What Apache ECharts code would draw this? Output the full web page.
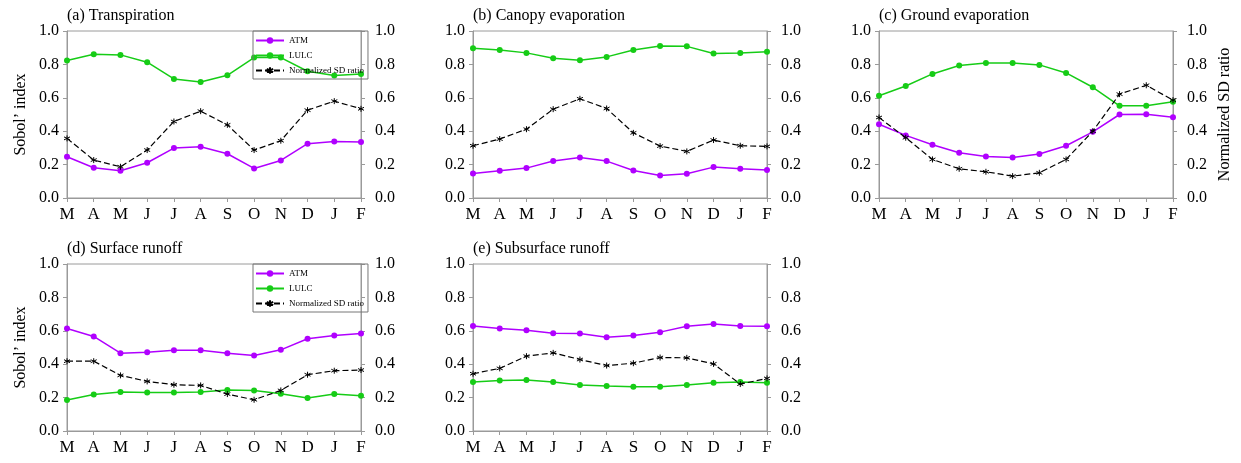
<!DOCTYPE html>
<html>
<head>
<meta charset="utf-8">
<script src="https://cdn.jsdelivr.net/npm/echarts@6/dist/echarts.min.js"></script>
<style>
html,body{margin:0;padding:0;background:#fff;}
#chart{width:1241px;height:463px;}
</style>
</head>
<body>
<div id="chart"></div>
<script>
const months = ['M','A','M','J','J','A','S','O','N','D','J','F'];
const yTicks = ['0.0','0.2','0.4','0.6','0.8','1.0'];
const panelTitles = ['(a) Transpiration','(b) Canopy evaporation','(c) Ground evaporation','(d) Surface runoff','(e) Subsurface runoff'];
const seriesNames = ['ATM','LULC','Normalized SD ratio'];

// (a) Transpiration
const atmA  = [0.247,0.181,0.163,0.211,0.299,0.307,0.265,0.177,0.225,0.325,0.339,0.335];
const lulcA = [0.823,0.861,0.857,0.813,0.713,0.695,0.735,0.841,0.841,0.759,0.733,0.743];
const sdA   = [0.357,0.227,0.187,0.287,0.458,0.520,0.438,0.287,0.343,0.526,0.580,0.534];
// (b) Canopy evaporation
const atmB  = [0.147,0.163,0.179,0.221,0.243,0.221,0.165,0.135,0.145,0.185,0.175,0.167];
const lulcB = [0.896,0.886,0.869,0.837,0.825,0.845,0.886,0.910,0.908,0.865,0.869,0.876];
const sdB   = [0.313,0.353,0.412,0.532,0.594,0.536,0.390,0.311,0.279,0.347,0.313,0.309];
// (c) Ground evaporation
const atmC  = [0.442,0.375,0.319,0.271,0.249,0.243,0.263,0.313,0.396,0.500,0.502,0.484];
const lulcC = [0.612,0.671,0.743,0.793,0.809,0.809,0.797,0.749,0.663,0.552,0.552,0.576];
const sdC   = [0.482,0.361,0.231,0.175,0.157,0.131,0.151,0.231,0.400,0.622,0.675,0.586];
// (d) Surface runoff
const atmD  = [0.614,0.566,0.466,0.472,0.484,0.484,0.466,0.452,0.486,0.552,0.572,0.584];
const lulcD = [0.185,0.219,0.233,0.231,0.231,0.233,0.245,0.243,0.223,0.197,0.221,0.211];
const sdD   = [0.418,0.418,0.333,0.297,0.277,0.273,0.221,0.187,0.243,0.337,0.361,0.365];
// (e) Subsurface runoff
const atmE  = [0.629,0.614,0.604,0.586,0.584,0.562,0.572,0.592,0.627,0.641,0.629,0.627];
const lulcE = [0.293,0.303,0.305,0.293,0.275,0.269,0.265,0.265,0.275,0.289,0.293,0.289];
const sdE   = [0.343,0.375,0.448,0.468,0.428,0.392,0.406,0.440,0.438,0.402,0.281,0.315];

const panels = [
  {atm: atmA, lulc: lulcA, sd: sdA},
  {atm: atmB, lulc: lulcB, sd: sdB},
  {atm: atmC, lulc: lulcC, sd: sdC},
  {atm: atmD, lulc: lulcD, sd: sdD},
  {atm: atmE, lulc: lulcE, sd: sdE}
];

const FONT = '"Liberation Serif", "Times New Roman", serif';
const AX = '#9a9a9a';
const PURPLE = '#b000ff';
const GREEN = '#16cc16';
const STAR = 'path://M5,0L5,10M0.67,2.5L9.33,7.5M0.67,7.5L9.33,2.5';

const layout = [
  {left: 67, top: 31}, {left: 473, top: 31}, {left: 879, top: 31},
  {left: 67, top: 264}, {left: 473, top: 264}
];
const W = 294, H = 167;

const grids = [], xAxes = [], yAxes = [], series = [], titles = [];
layout.forEach((p, i) => {
  grids.push({left: p.left, top: p.top, width: W, height: H, show: true,
    borderColor: AX, borderWidth: 1, backgroundColor: 'transparent'});
  titles.push({text: panelTitles[i], left: p.left, top: p.top - 23, padding: 0,
    textStyle: {fontFamily: FONT, fontSize: 16, fontWeight: 'normal', color: '#000'}});
  xAxes.push({type: 'category', gridIndex: i, data: months, boundaryGap: false,
    axisLine: {lineStyle: {color: AX, width: 1}},
    axisTick: {show: true, length: 4, lineStyle: {color: AX}},
    axisLabel: {fontFamily: FONT, fontSize: 17, color: '#000', margin: 8, interval: 0},
    splitLine: {show: false}});
  const yBase = {type: 'value', gridIndex: i, min: 0, max: 1, interval: 0.2,
    axisLine: {show: true, lineStyle: {color: AX, width: 1}},
    axisTick: {show: true, length: 4, lineStyle: {color: AX}},
    splitLine: {show: false},
    nameTextStyle: {fontFamily: FONT, fontSize: 16, color: '#000'}};
  yAxes.push(Object.assign({}, yBase, {position: 'left',
    axisLabel: {fontFamily: FONT, fontSize: 16, color: '#000', margin: 8,
      formatter: v => yTicks[Math.round(v * 5)]},
    name: (i === 0 || i === 3) ? 'Sobol\u2019 index' : '',
    nameLocation: 'middle', nameGap: 38}));
  yAxes.push(Object.assign({}, yBase, {position: 'right',
    axisLabel: {fontFamily: FONT, fontSize: 16, color: '#000', margin: 14,
      formatter: v => yTicks[Math.round(v * 5)]},
    name: (i === 2) ? 'Normalized SD ratio' : '',
    nameLocation: 'middle', nameGap: 44}));
  const d = panels[i];
  series.push({name: seriesNames[0], type: 'line', xAxisIndex: i, yAxisIndex: 2 * i,
    data: d.atm, symbol: 'circle', symbolSize: 6, color: PURPLE,
    lineStyle: {color: PURPLE, width: 1.5}, itemStyle: {color: PURPLE}, z: 3});
  series.push({name: seriesNames[1], type: 'line', xAxisIndex: i, yAxisIndex: 2 * i,
    data: d.lulc, symbol: 'circle', symbolSize: 6, color: GREEN,
    lineStyle: {color: GREEN, width: 1.5}, itemStyle: {color: GREEN}, z: 3});
  series.push({name: seriesNames[2], type: 'line', xAxisIndex: i, yAxisIndex: 2 * i + 1,
    data: d.sd, symbol: STAR, symbolSize: 6, color: '#000',
    lineStyle: {color: '#000', width: 1.2, type: [6, 3]},
    itemStyle: {color: '#000', borderColor: '#000', borderWidth: 1}, z: 4});
});

const legendBase = {orient: 'vertical', data: seriesNames, itemWidth: 28, itemHeight: 8,
  itemGap: 6, padding: [5, 4, 4, 2], borderColor: '#777', borderWidth: 1,
  backgroundColor: 'transparent',
  textStyle: {fontFamily: FONT, fontSize: 9, color: '#000'}, selectedMode: false};
const legends = [
  Object.assign({}, legendBase, {left: 253, top: 31, width: 108, height: 49}),
  Object.assign({}, legendBase, {left: 253, top: 264, width: 108, height: 49})
];

const chart = echarts.init(document.getElementById('chart'), null, {renderer: 'canvas'});
chart.setOption({
  animation: false,
  backgroundColor: '#fff',
  title: titles,
  legend: legends,
  grid: grids,
  xAxis: xAxes,
  yAxis: yAxes,
  series: series
});
</script>
</body>
</html>
